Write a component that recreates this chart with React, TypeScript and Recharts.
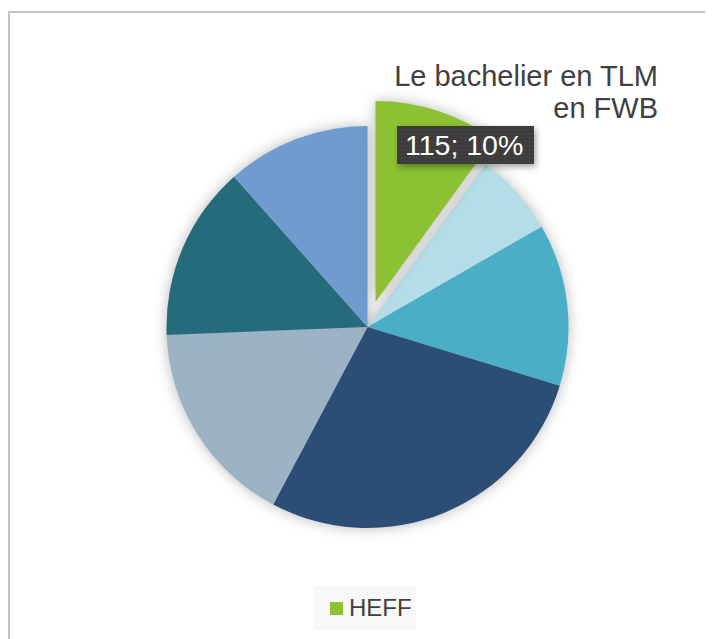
import { Cell, Legend, Pie, PieChart } from "recharts";

const categories = ["HEFF", "Série 2", "Série 3", "Série 4", "Série 5", "Série 6", "Série 7"];
const values = [115, 77, 150, 323, 191, 162, 133];
const colors = ["#8bc132", "#b4dde8", "#4aaec6", "#2c4d75", "#9bb3c2", "#256b7b", "#6f9bce"];
const titleLines = ["Le bachelier en TLM", "en FWB"];

const data = categories.map((name, i) => ({ name, value: values[i] }));
const total = values.reduce((a, b) => a + b, 0);

const W = 705;
const H = 631;
// chart margin is 5 on each side, so these are offsets inside that margin
const CX = 354.5;
const CY = 314;
const R = 201;
const FONT = '"Liberation Sans", Arial, sans-serif';

function HeffLabel(props: { index?: number; cx?: number; cy?: number }) {
  if (props.index !== 0) return null;
  const cx = Number(props.cx);
  const cy = Number(props.cy);
  const x = cx + 21.5;
  const y = cy - 176;
  const pct = Math.round((values[0] / total) * 100);
  return (
    <g>
      <rect x={x} y={y} width={137} height={38} fill="url(#dots)" style={{ filter: "drop-shadow(2px 3px 3px rgba(0,0,0,0.35))" }} />
      <text x={x + 8} y={y + 29} fill="#ffffff" fontSize={28.5} fontFamily={FONT}>
        {`${values[0]}; ${pct}%`}
      </text>
    </g>
  );
}

function HeffLegend() {
  return (
    <div style={{ background: "#f8f8f8", width: 102, height: 44, display: "flex", alignItems: "center", fontFamily: FONT }}>
      <span style={{ display: "inline-block", width: 13, height: 13, background: colors[0], marginLeft: 16, marginRight: 6 }} />
      <span style={{ fontSize: 24, color: "#404040" }}>{categories[0]}</span>
    </div>
  );
}

export default function App() {
  return (
    <div style={{ position: "relative", width: W, height: H, background: "#ffffff" }}>
      <style>{`.pie-main .recharts-pie { filter: drop-shadow(0 0 7px rgba(0,0,0,0.28)); }`}</style>
      <div style={{ position: "absolute", left: 0, top: 3, width: W, height: 2, background: "#c4c4c4" }} />
      <div style={{ position: "absolute", left: 0, top: 3, width: 2, height: H - 3, background: "#c4c4c4" }} />
      <div className="pie-main" style={{ position: "absolute", left: 0, top: 0 }}>
        <PieChart width={W} height={H}>
          <defs>
            <pattern id="dots" width="4" height="4" patternUnits="userSpaceOnUse">
              <rect width="4" height="4" fill="#3c3c3c" />
              <rect x="1" y="1" width="1" height="1" fill="#555555" />
            </pattern>
          </defs>
          <Pie
            data={data}
            dataKey="value"
            nameKey="name"
            cx={CX}
            cy={CY}
            outerRadius={R}
            startAngle={90}
            endAngle={-270}
            stroke="none"
            isAnimationActive={false}
          >
            {data.map((d, i) => (
              <Cell key={d.name} fill={i === 0 ? "transparent" : colors[i]} />
            ))}
          </Pie>
          <Pie
            data={data}
            dataKey="value"
            nameKey="name"
            cx={CX + 8}
            cy={CY - 25}
            outerRadius={R}
            startAngle={90}
            endAngle={-270}
            stroke="none"
            label={HeffLabel}
            labelLine={false}
            isAnimationActive={false}
          >
            {data.map((d, i) => (
              <Cell key={d.name} fill={i === 0 ? colors[0] : "transparent"} />
            ))}
          </Pie>
          <Legend
            content={HeffLegend}
            wrapperStyle={{ position: "absolute", left: 306, top: 578, width: 102, height: 44 }}
          />
        </PieChart>
      </div>
      <div
        style={{
          position: "absolute",
          right: W - 650,
          top: 52,
          textAlign: "right",
          fontFamily: FONT,
          fontSize: 29,
          lineHeight: "32px",
          color: "#404040",
          whiteSpace: "nowrap",
        }}
      >
        {titleLines.map((t) => (
          <div key={t}>{t}</div>
        ))}
      </div>
    </div>
  );
}
